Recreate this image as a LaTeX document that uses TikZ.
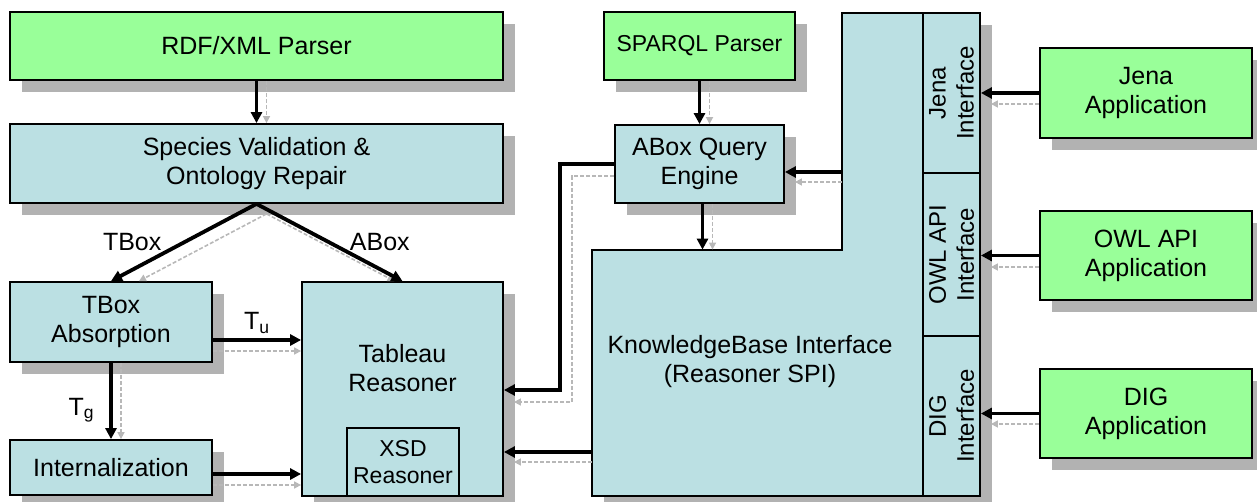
\documentclass[tikz,border=0pt]{standalone}
\usepackage{fontspec}
\setmainfont{Liberation Sans}
\usetikzlibrary{arrows.meta,positioning}

\definecolor{appgreen}{RGB}{153,255,153}
\definecolor{modblue}{RGB}{187,224,227}

\newcommand{\diagfont}{\fontsize{12.5}{14.5}\selectfont}
\newcommand{\smallfont}{\fontsize{11.5}{13.5}\selectfont}

% draws a connector (#1) and its light shadow (#2)
\newcommand{\flowline}[2]{%
  \draw[flowshade] #2;
  \draw[flow] #1;}

\tikzset{
  box/.style={draw, line width=0.9pt, inner sep=0pt, align=center, font=\diagfont},
  app/.style={box, fill=appgreen},
  module/.style={box, fill=modblue},
  iface/.style={draw, line width=0.9pt, fill=modblue, inner sep=0pt, align=center,
                rotate=90, font=\fontsize{12}{14}\selectfont},
  txt/.style={inner sep=0pt, align=center, font=\diagfont},
  lbl/.style={inner sep=0pt, font=\diagfont},
  flow/.style={line width=1.9pt, -{Triangle[length=5.5pt,width=5.5pt]}},
  flowshade/.style={draw=black!28, line width=0.8pt, dash pattern=on 2pt off 1pt,
                    -{Triangle[length=3.5pt,width=3.5pt]}}
}

\begin{document}
\begin{tikzpicture}[x=0.5pt, y=-0.5pt]
  \useasboundingbox (0,0) rectangle (1257,502);

  % loading side
  \node[app, minimum width=246.5pt, minimum height=34pt] (rdf) at (256.5,46) {RDF/XML Parser};
  \node[module, minimum width=246.5pt, minimum height=39.5pt] (species) at (256.5,163.5)
       {Species Validation \&\\Ontology Repair};
  \node[module, minimum width=101pt, minimum height=40pt] (tbox) at (111,322) {TBox\\Absorption};
  \node[module, minimum width=101pt, minimum height=27.5pt] (intern) at (111,467.5) {Internalization};

  % reasoner
  \node[module, minimum width=100.5pt, minimum height=107pt] (tableau) at (402.5,389) {};
  \node[txt] (tableautxt) at (402.5,368) {Tableau\\Reasoner};
  \node[draw, line width=0.9pt, fill=modblue, inner sep=0pt, align=center, font=\smallfont,
        minimum width=56pt, minimum height=34pt] (xsd) at (403,462) {XSD\\Reasoner};

  % query side
  \node[app, font=\smallfont, minimum width=95.5pt, minimum height=34pt] (sparql) at (699.5,46) {SPARQL Parser};
  \node[module, minimum width=84.5pt, minimum height=39pt] (abox) at (699.5,164) {ABox Query\\Engine};

  % knowledge base interface
  \draw[line width=0.9pt, fill=modblue]
    (592,250) -- (842,250) -- (842,13) -- (980,13) -- (980,496) -- (592,496) -- cycle;
  \node[inner sep=0pt, minimum width=165.5pt, minimum height=123pt] (kb) at (757.5,373) {};
  \node[inner sep=0pt, minimum width=40.5pt, minimum height=118.5pt] (kbcol) at (882.5,131.5) {};
  \node[txt] (kbtxt) at (750,362) {KnowledgeBase Interface\\(Reasoner SPI)};

  \node[iface, minimum width=80pt, minimum height=28.5pt] (jena) at (951.5,93) {Jena\\Interface};
  \node[iface, minimum width=81.5pt, minimum height=28.5pt] (owl) at (951.5,254.5) {OWL API\\Interface};
  \node[iface, minimum width=80pt, minimum height=28.5pt] (dig) at (951.5,416) {DIG\\Interface};

  % applications
  \node[app, minimum width=106pt, minimum height=45pt] (jenaapp) at (1146,93) {Jena\\Application};
  \node[app, minimum width=106pt, minimum height=44.5pt] (owlapp) at (1146,255.5) {OWL API\\Application};
  \node[app, minimum width=106pt, minimum height=44.5pt] (digapp) at (1146,413.5) {DIG\\Application};

  % box shadows: strips right of and below each box
  \foreach \xa/\ya/\xb/\yb in {10/12/503/80, 10/124/503/203, 10/282/212/362, 10/440/212/495,
                               302/282/503/496, 604/12/795/80, 615/125/784/203,
                               1040/48/1252/138, 1040/211/1252/300, 1040/369/1252/458,
                               592/13/980/496}
  {
    \fill[black!30] (\xb+1,\ya+12) rectangle (\xb+12,\yb+12);
    \fill[black!30] (\xa+12,\yb+1) rectangle (\xb+1,\yb+12);
  }

  \coordinate (qbend) at (560,164);
  \coordinate (qshade) at (572,176);

  % connectors
  \flowline{(rdf) -- (species)}{([xshift=5pt]rdf.south) -- ([xshift=5pt]species.north)}
  \flowline{(species.south) -- (tbox.north)}{([shift={(5pt,-5pt)}]species.south) -- ([xshift=14pt]tbox.north)}
  \flowline{(species.south) -- (tableau.north)}{([shift={(5pt,-5pt)}]species.south) -- ([xshift=-4pt]tableau.north)}
  \flowline{(tbox.east |- 0,340) -- (tableau.west |- 0,340)}{(tbox.east |- 0,351) -- (tableau.west |- 0,351)}
  \flowline{(tbox) -- (intern)}{([xshift=5pt]tbox.south) -- ([xshift=5pt]intern.north)}
  \flowline{(intern.east |- 0,474) -- (tableau.west |- 0,474)}{(intern.east |- 0,485) -- (tableau.west |- 0,485)}
  \flowline{(sparql) -- (abox)}{([xshift=5pt]sparql.south) -- ([xshift=5pt]abox.north)}
  \flowline{([xshift=1.5pt]abox.south) -- ([xshift=1.5pt]abox.south |- kb.north)}%
           {([xshift=6.5pt]abox.south) -- ([xshift=6.5pt]abox.south |- kb.north)}
  \flowline{(kbcol.west |- 0,172) -- (abox.east |- 0,172)}{[shorten >=5pt] (kbcol.west |- 0,182) -- (abox.east |- 0,182)}
  \flowline{(abox.west) -- (qbend) |- (tableau.east |- 0,390)}%
           {[shorten >=5pt] (abox.west |- qshade) -- (qshade) |- (tableau.east |- 0,402)}
  \flowline{(kb.west |- 0,452) -- (tableau.east |- 0,452)}{[shorten >=5pt] (kb.west |- 0,462) -- (tableau.east |- 0,462)}
  \flowline{(jenaapp.west) -- (jenaapp.west -| jena.south)}{[shorten >=5pt] (jenaapp.west |- 0,104) -- (jena.south |- 0,104)}
  \flowline{(owlapp.west) -- (owlapp.west -| owl.south)}{[shorten >=5pt] (owlapp.west |- 0,267) -- (owl.south |- 0,267)}
  \flowline{(digapp.west) -- (digapp.west -| dig.south)}{[shorten >=5pt] (digapp.west |- 0,424) -- (dig.south |- 0,424)}

  % labels
  \path (species.south) -- node[lbl, left=11pt] (tboxlbl) {TBox} (tbox.north);
  \path (species.south) -- node[lbl, right=10pt] (aboxlbl) {ABox} (tableau.north);
  \path (tbox.east |- 0,340) -- node[lbl, above=3pt] (tulbl) {T\textsubscript{u}} (tableau.west |- 0,340);
  \path (tbox) -- node[lbl, left=8pt, pos=0.62] (tglbl) {T\textsubscript{g}} (intern);
\end{tikzpicture}
\end{document}
